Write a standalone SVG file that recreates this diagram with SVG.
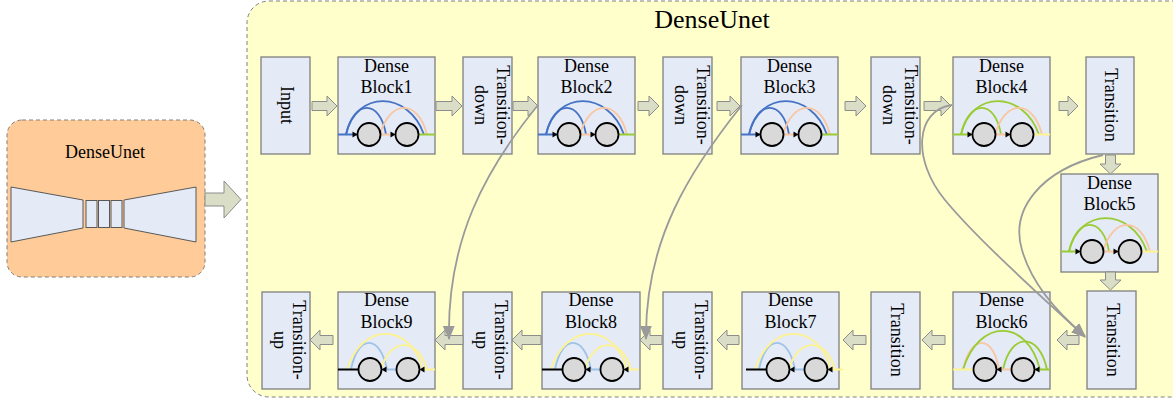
<svg xmlns="http://www.w3.org/2000/svg" xmlns:xlink="http://www.w3.org/1999/xlink" width="1173" height="402" viewBox="0 0 1173 402" font-family="Liberation Serif, Times New Roman, serif" font-size="18">
<style>
.box{fill:#E4EAF6;stroke:#7F7F7F;stroke-width:1.3}
.ba{fill:#DADEC6;stroke:#8C8C8C;stroke-width:1}
.gc{fill:none;stroke:#9A9A9A;stroke-width:1.8}
.ln{fill:none;stroke-width:2}
.arc{fill:none;stroke-width:1.8}
.cir{fill:#D9D9D9;stroke:#000;stroke-width:1.8}
.tip{fill:#000}
.blue{stroke:#4472C4}.peach{stroke:#F9C6A0}.green{stroke:#99CC33}.yel{stroke:#FFF38F}.lb{stroke:#9DC3E6}.blk{stroke:#000}
</style>
<defs>
<marker id="gh" markerUnits="userSpaceOnUse" markerWidth="14" markerHeight="14" viewBox="0 0 14 14" refX="13" refY="7" orient="auto"><path d="M0,1 L14,7 L0,13 z" fill="#9A9A9A"/></marker>
<g id="itb">
<path class="arc blue" d="M8,77.5 C18,33 70,33 86,77.5"/>
<path class="arc blue" d="M8,77.5 C16,42 42,42 48,77.5"/>
<path class="arc peach" d="M42,77.5 C52,42 80,42 89,77.5"/>
<path class="ln blue" d="M0,77.5 H19"/>
<path class="ln peach" d="M42.5,77.5 H57"/>
<path class="ln green" d="M80.5,77.5 H97"/>
<path class="tip" d="M14.5,74.5 L19.5,77.5 L14.5,80.5Z"/>
<path class="tip" d="M52.5,74.5 L57.5,77.5 L52.5,80.5Z"/>
<circle class="cir" cx="31" cy="77.5" r="11.5"/>
<circle class="cir" cx="69" cy="77.5" r="11.5"/>
</g>
<g id="itg">
<path class="arc green" d="M8,77.5 C18,33 70,33 86,77.5"/>
<path class="arc green" d="M8,77.5 C16,42 42,42 48,77.5"/>
<path class="arc peach" d="M42,77.5 C52,42 80,42 89,77.5"/>
<path class="ln green" d="M0,77.5 H19"/>
<path class="ln peach" d="M42.5,77.5 H57"/>
<path class="ln yel" d="M80.5,77.5 H97"/>
<path class="tip" d="M14.5,74.5 L19.5,77.5 L14.5,80.5Z"/>
<path class="tip" d="M52.5,74.5 L57.5,77.5 L52.5,80.5Z"/>
<circle class="cir" cx="31" cy="77.5" r="11.5"/>
<circle class="cir" cx="69" cy="77.5" r="11.5"/>
</g>
<g id="ibg">
<path class="arc peach" d="M10,77.5 C18,42 40,42 46,77.5"/>
<path class="arc green" d="M10,77.5 C26,26 74,26 87,77.5"/>
<path class="arc green" d="M50,77.5 C58,40 86,40 94,77.5"/>
<path class="ln yel" d="M0,77.5 H20.5"/>
<path class="ln peach" d="M44,77.5 H58.5"/>
<path class="ln green" d="M82,77.5 H97"/>
<path class="tip" d="M48.5,74.5 L43.5,77.5 L48.5,80.5Z"/>
<path class="tip" d="M86.5,74.5 L81.5,77.5 L86.5,80.5Z"/>
<circle class="cir" cx="32" cy="77.5" r="11.5"/>
<circle class="cir" cx="70" cy="77.5" r="11.5"/>
</g>
<g id="iby">
<path class="arc lb" d="M13,77.5 C20,42 42,42 49,77.5"/>
<path class="arc yel" d="M9,77.5 C24,30 72,30 85,77.5"/>
<path class="arc yel" d="M43,77.5 C52,45 80,45 89,77.5"/>
<path class="ln blk" d="M0,77.5 H20.5"/>
<path class="ln lb" d="M44,77.5 H58.5"/>
<path class="ln yel" d="M82,77.5 H97"/>
<path class="tip" d="M48.5,74.5 L43.5,77.5 L48.5,80.5Z"/>
<path class="tip" d="M86.5,74.5 L81.5,77.5 L86.5,80.5Z"/>
<circle class="cir" cx="32" cy="77.5" r="11.5"/>
<circle class="cir" cx="70" cy="77.5" r="11.5"/>
</g>
</defs>

<g id="overview">
<rect x="7" y="120" width="198" height="157" rx="15" fill="#FFCC99" stroke="#7F7F7F" stroke-width="1" stroke-dasharray="4,3"/>
<text x="105" y="158" text-anchor="middle">DenseUnet</text>
<path d="M11,187 L83,200 V228 L11,242 Z" fill="#E4EAF6" stroke="#595959" stroke-width="1"/>
<rect x="86" y="200.5" width="11" height="27" fill="#E4EAF6" stroke="#595959" stroke-width="1"/>
<rect x="98.5" y="200.5" width="11" height="27" fill="#E4EAF6" stroke="#595959" stroke-width="1"/>
<rect x="111" y="200.5" width="11" height="27" fill="#E4EAF6" stroke="#595959" stroke-width="1"/>
<path d="M124,200 L196,187 V242 L124,228 Z" fill="#E4EAF6" stroke="#595959" stroke-width="1"/>
</g>

<g id="container">
<rect x="247" y="1" width="950" height="396" rx="22" fill="#FFFFCC" stroke="#808080" stroke-width="1" stroke-dasharray="4,3"/>
<text x="712" y="28" text-anchor="middle" font-size="26">DenseUnet</text>
</g>

<g id="input"><rect class="box" x="261" y="57" width="49" height="97"/><text transform="translate(285.5,105) rotate(90)" y="5" text-anchor="middle">Input</text></g>
<g id="db1"><rect class="box" x="338" y="57" width="97" height="97"/><text x="386.5" y="71.5" text-anchor="middle">Dense</text><text x="386.5" y="93" text-anchor="middle">Block1</text><use xlink:href="#itb" href="#itb" transform="translate(338,57)"/></g>
<g id="td1"><rect class="box" x="463" y="57" width="49" height="97"/><text transform="translate(487.5,105) rotate(90)" text-anchor="middle"><tspan x="0" y="-9.5">Transition-</tspan><tspan x="0" y="12.5">down</tspan></text></g>
<g id="db2"><rect class="box" x="538" y="57" width="97" height="97"/><text x="586.5" y="71.5" text-anchor="middle">Dense</text><text x="586.5" y="93" text-anchor="middle">Block2</text><use xlink:href="#itb" href="#itb" transform="translate(538,57)"/></g>
<g id="td2"><rect class="box" x="663" y="57" width="49" height="97"/><text transform="translate(687.5,105) rotate(90)" text-anchor="middle"><tspan x="0" y="-9.5">Transition-</tspan><tspan x="0" y="12.5">down</tspan></text></g>
<g id="db3"><rect class="box" x="741" y="57" width="97" height="97"/><text x="789.5" y="71.5" text-anchor="middle">Dense</text><text x="789.5" y="93" text-anchor="middle">Block3</text><use xlink:href="#itb" href="#itb" transform="translate(741,57)"/></g>
<g id="td3"><rect class="box" x="871" y="57" width="49" height="97"/><text transform="translate(895.5,105) rotate(90)" text-anchor="middle"><tspan x="0" y="-9.5">Transition-</tspan><tspan x="0" y="12.5">down</tspan></text></g>
<g id="db4"><rect class="box" x="953" y="57" width="97" height="97"/><text x="1001.5" y="71.5" text-anchor="middle">Dense</text><text x="1001.5" y="93" text-anchor="middle">Block4</text><use xlink:href="#itg" href="#itg" transform="translate(953,57)"/></g>
<g id="t1"><rect class="box" x="1086" y="57" width="48" height="97"/><text transform="translate(1110,105) rotate(90)" y="5" text-anchor="middle">Transition</text></g>
<g id="db5"><rect class="box" x="1061" y="174" width="97" height="98"/><text x="1109.5" y="188.5" text-anchor="middle">Dense</text><text x="1109.5" y="210" text-anchor="middle">Block5</text><use xlink:href="#itg" href="#itg" transform="translate(1061,174)"/></g>
<g id="t2"><rect class="box" x="1087" y="291" width="49" height="98"/><text transform="translate(1111.5,340) rotate(90)" y="5" text-anchor="middle">Transition</text></g>
<g id="db6"><rect class="box" x="953" y="292" width="97" height="97"/><text x="1001.5" y="306" text-anchor="middle">Dense</text><text x="1001.5" y="328" text-anchor="middle">Block6</text><use xlink:href="#ibg" href="#ibg" transform="translate(953,292)"/></g>
<g id="t3"><rect class="box" x="871" y="292" width="49" height="97"/><text transform="translate(895.5,340) rotate(90)" y="5" text-anchor="middle">Transition</text></g>
<g id="db7"><rect class="box" x="742" y="292" width="97" height="97"/><text x="790.5" y="306" text-anchor="middle">Dense</text><text x="790.5" y="328" text-anchor="middle">Block7</text><use xlink:href="#iby" href="#iby" transform="translate(746,292)"/></g>
<g id="tu1"><rect class="box" x="663" y="292" width="49" height="97"/><text transform="translate(687.5,340) rotate(90)" text-anchor="middle"><tspan x="0" y="-7">Transition-</tspan><tspan x="0" y="12">up</tspan></text></g>
<g id="db8"><rect class="box" x="542" y="292" width="98" height="97"/><text x="591" y="306" text-anchor="middle">Dense</text><text x="591" y="328" text-anchor="middle">Block8</text><use xlink:href="#iby" href="#iby" transform="translate(542,292)"/></g>
<g id="tu2"><rect class="box" x="463" y="292" width="49" height="97"/><text transform="translate(487.5,340) rotate(90)" text-anchor="middle"><tspan x="0" y="-7">Transition-</tspan><tspan x="0" y="12">up</tspan></text></g>
<g id="db9"><rect class="box" x="338" y="292" width="97" height="97"/><text x="386.5" y="306" text-anchor="middle">Dense</text><text x="386.5" y="328" text-anchor="middle">Block9</text><use xlink:href="#iby" href="#iby" transform="translate(338,292)"/></g>
<g id="tu3"><rect class="box" x="262" y="292" width="48" height="97"/><text transform="translate(286,340) rotate(90)" text-anchor="middle"><tspan x="0" y="-7">Transition-</tspan><tspan x="0" y="12">up</tspan></text></g>

<g id="connectors">
<path class="ba" d="M205,193 H224 V181 L241,199.5 L224,218 V206 H205 Z"/>
<path class="ba" d="M312,101.5 H327 V96 L337,106 L327,116 V110.5 H312 Z"/>
<path class="ba" d="M436,101.5 H452 V96 L462,106 L452,116 V110.5 H436 Z"/>
<path class="ba" d="M513,101.5 H528 V96 L538,106 L528,116 V110.5 H513 Z"/>
<path class="ba" d="M638,101.5 H649 V96 L659,106 L649,116 V110.5 H638 Z"/>
<path class="ba" d="M717,101.5 H730 V96 L740,106 L730,116 V110.5 H717 Z"/>
<path class="ba" d="M845,101.5 H856 V96 L866,106 L856,116 V110.5 H845 Z"/>
<path class="ba" d="M924,101.5 H941 V96 L951,106 L941,116 V110.5 H924 Z"/>
<path class="ba" d="M1059,101.5 H1068 V96 L1078,106 L1068,116 V110.5 H1059 Z"/>
<path class="ba" d="M1105.5,155 V164 H1100 L1110.5,174 L1121,164 H1115.5 V155 Z"/>
<path class="ba" d="M1105.5,272 V280 H1100 L1110.5,290 L1121,280 H1115.5 V272 Z"/>
<path class="ba" d="M1079,335.5 H1067 V330 L1057,340 L1067,350 V344.5 H1079 Z"/>
<path class="ba" d="M945,335.5 H932 V330 L922,340 L932,350 V344.5 H945 Z"/>
<path class="ba" d="M866,335.5 H853 V330 L843,340 L853,350 V344.5 H866 Z"/>
<path class="ba" d="M739,335.5 H727 V330 L717,340 L727,350 V344.5 H739 Z"/>
<path class="ba" d="M662,335.5 H650 V330 L640,340 L650,350 V344.5 H662 Z"/>
<path class="ba" d="M541,335.5 H522 V330 L512,340 L522,350 V344.5 H541 Z"/>
<path class="ba" d="M463,335.5 H445 V330 L435,340 L445,350 V344.5 H463 Z"/>
<path class="ba" d="M333,335.5 H320 V330 L310,340 L320,350 V344.5 H333 Z"/>
<path class="gc" marker-end="url(#gh)" d="M538,105 C485,170 447,240 449,339"/>
<path class="gc" marker-end="url(#gh)" d="M742,105 C690,170 645,240 646,339"/>
<path class="gc" marker-end="url(#gh)" d="M952,105 C915,110 912,160 945,200 C978,240 1040,295 1085,337"/>
<path class="gc" marker-end="url(#gh)" d="M1103,155 C1040,170 1010,210 1022,250 C1032,285 1060,315 1085,336"/>
</g>
</svg>
